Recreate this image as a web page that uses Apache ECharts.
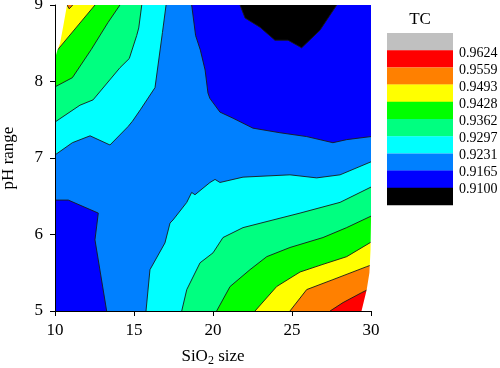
<!DOCTYPE html>
<html>
<head>
<meta charset="utf-8">
<script src="https://cdn.jsdelivr.net/npm/echarts@6/dist/echarts.min.js"></script>
<style>html,body{margin:0;padding:0;background:#fff}#c{width:500px;height:368px}</style>
</head>
<body>
<div id="c"></div>
<script>
// ---- axes ----
const xRange = [10, 30, 5];   // SiO2 size: min, max, interval
const yRange = [5, 9, 1];     // pH range: min, max, interval

// ---- TC levels (legend tick labels) and band colours (low -> high) ----
const levels = [0.9100, 0.9165, 0.9231, 0.9297, 0.9362, 0.9428, 0.9493, 0.9559, 0.9624];
const bandColors = ['#000000', '#0000ff', '#0080ff', '#00ffff', '#00ff80', '#00ff00', '#ffff00', '#ff8000', '#ff0000', '#c0c0c0'];

// ---- contour lines, [SiO2 size, pH] ----
// upper-left high lobe
const c9231_UL = [[17.03,9],[16.8,8.64],[16.33,7.92],[15.4,7.63],[14.9,7.48],[14.62,7.41],[13.48,7.17],[12.22,7.29],[11.1,7.2],[10,7.04]];
const c9297_UL = [[15.49,9],[15.3,8.7],[15.17,8.6],[14.7,8.3],[14.11,8.18],[12.41,7.76],[11.58,7.69],[10,7.47]];
const c9362_UL = [[14.11,9],[13.35,8.77],[12.3,8.42],[11.1,8.05],[10,7.93]];
const c9428_UL = [[12.53,9],[10.15,8.41]];
const c9493_UL = [[10.76,9],[10.9,8.95],[11.12,9]];
// lower-right high lobe
const c9231_LR = [[15.76,5],[16.01,5.54],[16.96,5.89],[17.28,6.15],[17.47,6.19],[18.34,6.42],[18.65,6.55],[18.86,6.52],[19.81,6.68],[20.13,6.72],[20.44,6.68],[21.9,6.75],[24.87,6.78],[26.56,6.74],[28.04,6.78],[30,6.95]];
const c9297_LR = [[18.02,5],[18.34,5.28],[19.18,5.63],[20.0,5.76],[20.63,5.96],[21.9,6.09],[23.8,6.19],[25.51,6.28],[28.04,6.42],[30,6.62]];
const c9362_LR = [[20.23,5],[21.08,5.32],[22.34,5.54],[23.4,5.71],[24.87,5.83],[26.96,5.96],[28.46,6.09],[30,6.24]];
const c9428_LR = [[22.66,5],[24.03,5.32],[25.51,5.51],[26.96,5.61],[28.46,5.71],[30,5.9]];
const c9493_LR = [[24.87,5],[25.93,5.28],[27.59,5.41],[29.73,5.58],[30,5.6]];
const c9559_LR = [[27.41,5],[28.23,5.11],[29.41,5.24],[30,5.3]];
// top-right low lobe
const c9165_TR = [[18.65,9],[18.9,8.6],[19.2,8.41],[19.5,8.15],[19.68,7.85],[19.8,7.78],[20.44,7.6],[21.27,7.52],[22.53,7.39],[24.24,7.33],[25.93,7.28],[27.59,7.2],[28.46,7.24],[30,7.28]];
const c9100_TR = [[21.71,9],[22.03,8.83],[22.97,8.71],[23.92,8.54],[24.75,8.54],[25.61,8.44],[26.77,8.67],[27.83,9]];
// bottom-left low lobe
const c9165_BL = [[10,6.45],[10.84,6.45],[12.74,6.28],[12.53,5.93],[13.27,5]];

// ---- outside of the computed domain (left blank) ----
const outsideUL = [[10,9],[10.76,9],[10.51,8.71],[10.32,8.5],[10.15,8.41],[10,8.3]];
const outsideLR = [[30,6.2],[29.97,5.8],[29.9,5.5],[29.73,5.28],[29.4,5],[30,5]];

// ---- build layers ----
const layers = [];
function fill(pts, band) { layers.push({kind: 'fill', pts: pts, color: bandColors[band]}); }
fill([[xRange[0], yRange[0]], [xRange[0], yRange[1]], [xRange[1], yRange[1]], [xRange[1], yRange[0]]], 2);
fill(c9231_UL.concat([[10, 9]]), 3);
fill(c9297_UL.concat([[10, 9]]), 4);
fill(c9362_UL.concat([[10, 9]]), 5);
fill(c9428_UL.concat([[10, 9]]), 6);
fill(c9493_UL, 7);
fill(c9231_LR.concat([[30, 5]]), 3);
fill(c9297_LR.concat([[30, 5]]), 4);
fill(c9362_LR.concat([[30, 5]]), 5);
fill(c9428_LR.concat([[30, 5]]), 6);
fill(c9493_LR.concat([[30, 5]]), 7);
fill(c9559_LR.concat([[30, 5]]), 8);
fill(c9165_TR.concat([[30, 9]]), 1);
fill(c9100_TR, 0);
fill(c9165_BL.concat([[10, 5]]), 1);
[c9231_UL, c9297_UL, c9362_UL, c9428_UL, c9493_UL, c9231_LR, c9297_LR, c9362_LR, c9428_LR, c9493_LR, c9559_LR, c9165_TR, c9100_TR, c9165_BL]
  .forEach(function (l) { layers.push({kind: 'line', pts: l}); });
layers.push({kind: 'fill', pts: outsideUL, color: '#ffffff'});
layers.push({kind: 'fill', pts: outsideLR, color: '#ffffff'});

function renderItem(params, api) {
  const L = layers[params.dataIndex];
  const pts = L.pts.map(function (p) { return api.coord(p); });
  if (L.kind === 'line') {
    return {type: 'polyline', z2: params.dataIndex, shape: {points: pts},
            style: {stroke: '#1a1a1a', lineWidth: 0.9, fill: null}};
  }
  return {type: 'polygon', z2: params.dataIndex, shape: {points: pts}, style: {fill: L.color}};
}

// ---- legend (graphic) ----
const FONT = "'Liberation Serif', 'DejaVu Serif', serif";
const legendColors = bandColors.slice().reverse();
const legendLabels = levels.slice().reverse().map(function (v) { return v.toFixed(4); });
const graphic = [{type: 'text', x: 420, y: 20, style: {text: 'TC', font: '17px ' + FONT, fill: '#000', align: 'center', verticalAlign: 'middle'}}];
legendColors.forEach(function (c, i) {
  graphic.push({type: 'rect', shape: {x: 387, y: 33 + 17.2 * i, width: 66, height: 17.4}, style: {fill: c}});
});
legendLabels.forEach(function (t, i) {
  graphic.push({type: 'text', x: 459, y: 53 + 17 * i, style: {text: t, font: '14px ' + FONT, fill: '#000', align: 'left', verticalAlign: 'middle'}});
});

const chart = echarts.init(document.getElementById('c'), null, {renderer: 'canvas'});
chart.setOption({
  animation: false,
  backgroundColor: '#fff',
  grid: {left: 55, right: 129, top: 5, bottom: 57, containLabel: false, outerBoundsMode: 'none'},
  xAxis: {
    type: 'value', min: xRange[0], max: xRange[1], interval: xRange[2], z: 5,
    name: '{a|SiO}{s|2}{a| size}', nameLocation: 'middle', nameGap: 36,
    nameTextStyle: {rich: {a: {fontFamily: FONT, fontSize: 17, color: '#000'}, s: {fontFamily: FONT, fontSize: 12, color: '#000', verticalAlign: 'bottom', padding: [8, 0, 0, 0]}}},
    axisLine: {lineStyle: {color: '#000', width: 1}},
    axisTick: {length: 5, lineStyle: {color: '#000'}},
    axisLabel: {fontFamily: FONT, fontSize: 17, color: '#000', margin: 11},
    splitLine: {show: false}
  },
  yAxis: {
    type: 'value', min: yRange[0], max: yRange[1], interval: yRange[2], z: 5,
    name: 'pH range', nameLocation: 'middle', nameGap: 38,
    nameTextStyle: {fontFamily: FONT, fontSize: 17, color: '#000'},
    axisLine: {lineStyle: {color: '#000', width: 1}},
    axisTick: {length: 5, lineStyle: {color: '#000'}},
    axisLabel: {fontFamily: FONT, fontSize: 17, color: '#000', margin: 12},
    splitLine: {show: false}
  },
  graphic: graphic,
  series: [{
    type: 'custom', renderItem: renderItem, clip: true, silent: true,
    data: layers.map(function (_, i) { return [i]; })
  }]
});
</script>
</body>
</html>
